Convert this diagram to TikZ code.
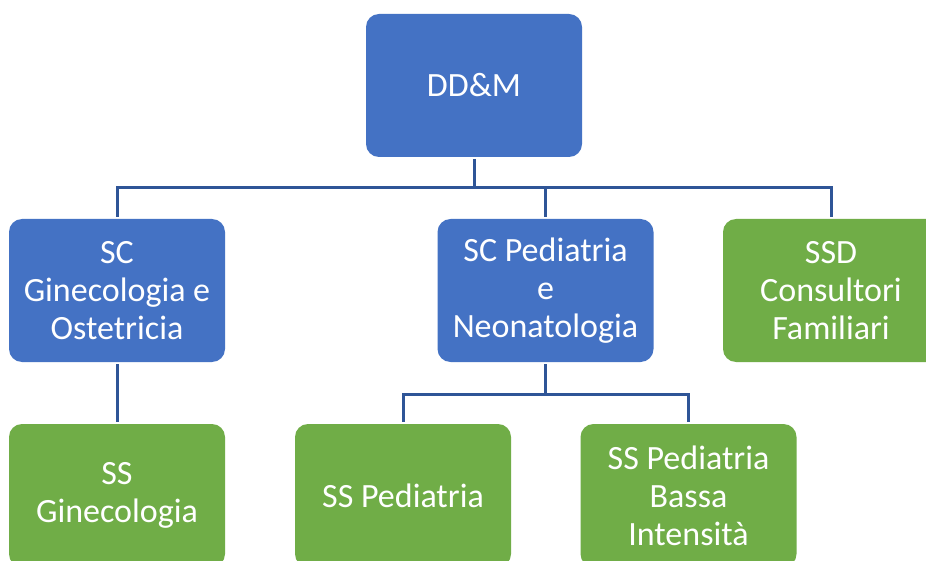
\documentclass[tikz,border=0pt]{standalone}
\usepackage{fontspec}
\setmainfont{Carlito}
\usetikzlibrary{calc}
\definecolor{unitblue}{RGB}{68,114,196}
\definecolor{unitgreen}{RGB}{112,173,71}
\definecolor{linkblue}{RGB}{47,85,151}

\begin{document}
\begin{tikzpicture}[x=1pt, y=-1pt,
		box/.style={rounded corners=13pt, minimum width=216pt, minimum height=143pt,
			text=white, align=center, outer sep=2pt,
			font=\fontsize{34}{38}\selectfont},
		sc/.style={box, fill=unitblue},
		ss/.style={box, fill=unitgreen},
		link/.style={draw=linkblue, line width=3pt}]
		%%%%% START %%%%%
		
		\path[use as bounding box, clip] (0, 0) rectangle (926, 561);
		\fill[white] (0, 0) rectangle (926, 561);
		
		\node[sc] (ddm) at (474, 85.5) {DD\&M};
		
		\node[sc] (scgin) at (117, 290.5) {SC\\Ginecologia e\\Ostetricia};
		\node[sc] (scped) at (545.5, 290.5) {SC Pediatria\\e\\Neonatologia};
		\node[ss] (ssdcons) at (831, 290.5) {SSD\\Consultori\\Familiari};
		
		\node[ss] (ssgin) at (117, 495.5) {SS\\Ginecologia};
		\node[ss] (ssped) at (403, 495.5) {SS Pediatria};
		\node[ss] (sspbi) at (688.5, 495.5) {SS Pediatria\\Bassa\\Intensità};
		
		\coordinate (bustop) at (474, 188);
		\coordinate (busped) at (545.5, 394);
		
		\draw[link] (ddm) -- (bustop);
		\foreach \n in {scgin, scped, ssdcons}
			\draw[link] (bustop) -| (\n);
		
		\draw[link] (scgin) -- (ssgin);
		
		\draw[link] (scped) -- (busped);
		\foreach \n in {ssped, sspbi}
			\draw[link] (busped) -| (\n);
		
		%%%%% END %%%%%
	\end{tikzpicture}
\end{document}
